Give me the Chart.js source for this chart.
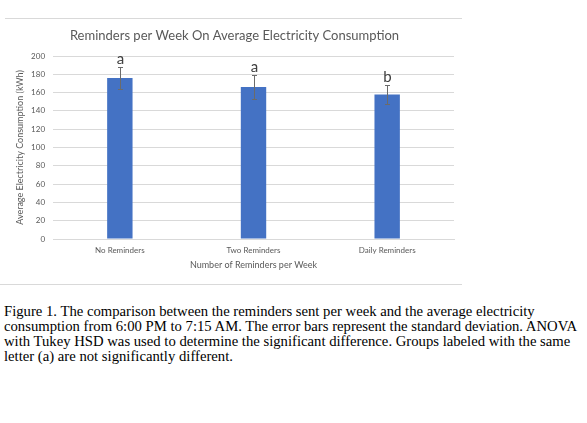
<!DOCTYPE html>
<html>
<head>
<meta charset="utf-8">
<script src="https://cdn.jsdelivr.net/npm/chart.js@4.4.1/dist/chart.umd.min.js"></script>
<style>
  html, body { margin: 0; padding: 0; background: #fff; width: 587px; height: 423px; overflow: hidden; }
  #wrap { position: absolute; left: 0; top: 0; width: 470px; height: 290px; }
  .frame { position: absolute; height: 1px; background: #d9d9d9; }
  #caption { position: absolute; left: 4px; top: 304px; width: 578px; font-family: "Liberation Serif", "Times New Roman", serif; font-size: 14.7px; line-height: 15px; color: #000; }
</style>
</head>
<body>
<div class="frame" style="left:5px; top:18px; width:457px;"></div>
<div class="frame" style="left:0px; top:284px; width:462px;"></div>
<div id="wrap"><canvas id="c"></canvas></div>
<div id="caption">Figure 1. The comparison between the reminders sent per week and the average electricity consumption from 6:00 PM to 7:15 AM. The error bars represent the standard deviation. ANOVA with Tukey HSD was used to determine the significant difference. Groups labeled with the same letter (a) are not significantly different.</div>
<script>
const categories = ["No Reminders", "Two Reminders", "Daily Reminders"];
const meanValues = [176, 166, 158];
const stdDevs = [12, 13, 10];
const groupLetters = ["a", "a", "b"];
const yTicks = [0, 20, 40, 60, 80, 100, 120, 140, 160, 180, 200];

const errorBarPlugin = {
  id: 'errorBars',
  afterDatasetsDraw(chart) {
    const ctx = chart.ctx;
    const meta = chart.getDatasetMeta(0);
    const y = chart.scales.y;
    ctx.save();
    meta.data.forEach((bar, i) => {
      const x = Math.round(bar.x) + 0.5;
      const top = Math.round(y.getPixelForValue(meanValues[i] + stdDevs[i])) + 0.5;
      const bot = Math.round(y.getPixelForValue(meanValues[i] - stdDevs[i])) + 0.5;
      ctx.strokeStyle = '#6b6b6b';
      ctx.lineWidth = 1;
      ctx.beginPath();
      ctx.moveTo(x, top); ctx.lineTo(x, bot);
      ctx.moveTo(x - 2.5, top); ctx.lineTo(x + 2.5, top);
      ctx.moveTo(x - 2.5, bot); ctx.lineTo(x + 2.5, bot);
      ctx.stroke();
      ctx.fillStyle = '#404040';
      ctx.font = '15px Lato, "Open Sans", sans-serif';
      ctx.textAlign = 'center';
      ctx.textBaseline = 'alphabetic';
      ctx.fillText(groupLetters[i], x, top - 4);
    });
    ctx.restore();
  }
};

new Chart(document.getElementById('c'), {
  type: 'bar',
  data: {
    labels: categories,
    datasets: [{
      data: meanValues,
      backgroundColor: '#4472C4',
      borderWidth: 0,
      barPercentage: 0.19,
      categoryPercentage: 1.0
    }]
  },
  options: {
    responsive: true,
    maintainAspectRatio: false,
    animation: false,
    devicePixelRatio: 1,
    layout: { padding: { left: 15, right: 16, top: 0, bottom: 19.6 } },
    plugins: {
      legend: { display: false },
      tooltip: { enabled: false },
      title: {
        display: true,
        text: 'Reminders per Week On Average Electricity Consumption',
        color: '#595959',
        font: { family: 'Lato, "Open Sans", sans-serif', size: 13, weight: 'normal' },
        padding: { top: 28, bottom: 12.4 }
      }
    },
    scales: {
      x: {
        grid: { display: false, drawTicks: false },
        border: { display: true, color: '#d9d9d9' },
        ticks: { color: '#595959', font: { family: 'Lato, "Open Sans", sans-serif', size: 8 }, padding: 7 },
        title: {
          display: true,
          text: 'Number of Reminders per Week',
          color: '#595959',
          font: { family: 'Lato, "Open Sans", sans-serif', size: 9 },
          padding: { top: -3, bottom: 0 }
        }
      },
      y: {
        min: 0,
        max: 200,
        afterBuildTicks(scale) { scale.ticks = yTicks.map(v => ({ value: v })); },
        grid: { color: '#d9d9d9', drawTicks: false },
        border: { display: false },
        ticks: { color: '#595959', font: { family: 'Lato, "Open Sans", sans-serif', size: 8 }, padding: 8 },
        title: {
          display: true,
          text: 'Average Electricity Consumption (kWh)',
          color: '#595959',
          font: { family: 'Lato, "Open Sans", sans-serif', size: 9 },
          padding: { top: 0, bottom: -2.7 }
        }
      }
    }
  },
  plugins: [errorBarPlugin]
});
</script>
</body>
</html>
